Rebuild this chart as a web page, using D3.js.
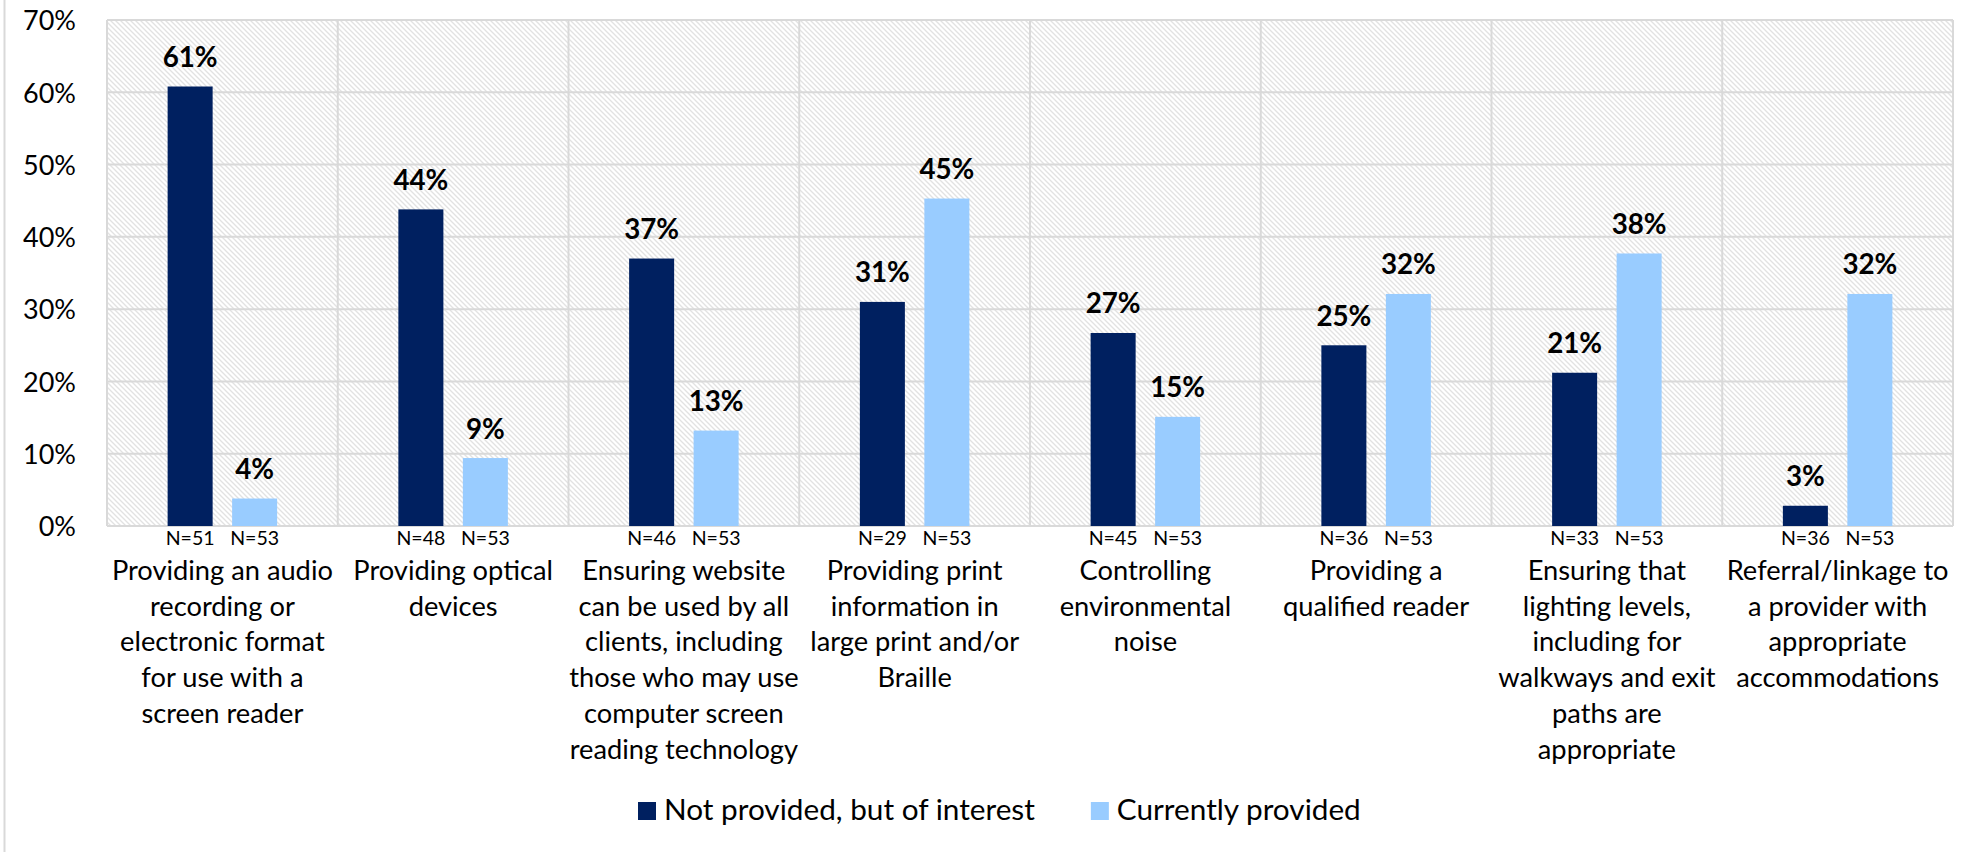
<!DOCTYPE html>
<html>
<head>
<meta charset="utf-8">
<script src="https://cdn.jsdelivr.net/npm/d3@7"></script>
<style>
  html, body { margin: 0; padding: 0; background: #ffffff; }
  svg { display: block; }
</style>
</head>
<body>
<svg id="chart" width="1970" height="852"></svg>
<script>
// Accommodation categories (line breaks follow the printed wrapping)
const categories = [
  "Providing an audio\nrecording or\nelectronic format\nfor use with a\nscreen reader",
  "Providing optical\ndevices",
  "Ensuring website\ncan be used by all\nclients, including\nthose who may use\ncomputer screen\nreading technology",
  "Providing print\ninformation in\nlarge print and/or\nBraille",
  "Controlling\nenvironmental\nnoise",
  "Providing a\nqualified reader",
  "Ensuring that\nlighting levels,\nincluding for\nwalkways and exit\npaths are\nappropriate",
  "Referral/linkage to\na provider with\nappropriate\naccommodations"
];

const seriesNames = ["Not provided, but of interest", "Currently provided"];

// Percent of respondents in each group
const notProvidedValues = [60.8, 43.8, 37.0, 31.0, 26.7, 25.0, 21.2, 2.8];
const currentlyProvidedValues = [3.8, 9.4, 13.2, 45.3, 15.1, 32.1, 37.7, 32.1];

// Respondents answering each item
const notProvidedN = [51, 48, 46, 29, 45, 36, 33, 36];
const currentlyProvidedN = [53, 53, 53, 53, 53, 53, 53, 53];

const yTicks = [0, 10, 20, 30, 40, 50, 60, 70];

const colors = ["#002060", "#99CCFF"];
const FONT = "Lato, 'Open Sans', sans-serif";

const svg = d3.select("#chart");

// Size a font so a sample string spans the wanted width
function fitSize(sample, weight, target) {
  const t = svg.append("text")
    .attr("font-family", FONT).attr("font-weight", weight)
    .attr("font-size", 100).text(sample);
  const w = t.node().getComputedTextLength();
  t.remove();
  return 100 * target / w;
}
const tickSize = fitSize("70%", 400, 53);
const catSize = fitSize("Providing an audio", 400, 221);
const nSize = fitSize("N=51", 400, 49);
const valSize = fitSize("61%", 700, 55);
const legendSize = fitSize("Not provided, but of interest", 400, 371);

const plot = { left: 107, right: 1953, top: 20, bottom: 526 };

const x = d3.scaleBand().domain(categories).range([plot.left, plot.right]).padding(0);
const xSub = d3.scaleBand().domain(seriesNames).range([0, x.bandwidth()])
  .paddingInner(0.302).paddingOuter(0.94);
const y = d3.scaleLinear().domain([0, 70]).range([plot.bottom, plot.top]);

// Diagonal hatch fill for the plot background
const defs = svg.append("defs");
const pat = defs.append("pattern")
  .attr("id", "hatch").attr("patternUnits", "userSpaceOnUse")
  .attr("width", 5).attr("height", 5);
pat.append("rect").attr("width", 5).attr("height", 5).attr("fill", "#ffffff");
pat.append("path")
  .attr("d", "M0,0L5,5M-1,4L1,6M4,-1L6,1")
  .attr("stroke", "#e2e2e2").attr("stroke-width", 1.3);

// Chart frame edge on the left
svg.append("line")
  .attr("x1", 4.5).attr("x2", 4.5).attr("y1", 0).attr("y2", 852)
  .attr("stroke", "#d9d9d9").attr("stroke-width", 2);

svg.append("rect")
  .attr("x", plot.left).attr("y", plot.top)
  .attr("width", plot.right - plot.left).attr("height", plot.bottom - plot.top)
  .attr("fill", "url(#hatch)");

// Horizontal gridlines
svg.append("g")
  .selectAll("line").data(yTicks).join("line")
  .attr("x1", plot.left).attr("x2", plot.right)
  .attr("y1", d => y(d)).attr("y2", d => y(d))
  .attr("stroke", "#d9d9d9").attr("stroke-width", 2);

// Vertical category separators
const bounds = categories.map(c => x(c)).concat([plot.right]);
svg.append("g")
  .selectAll("line").data(bounds).join("line")
  .attr("x1", d => d).attr("x2", d => d)
  .attr("y1", plot.top).attr("y2", plot.bottom)
  .attr("stroke", "#d9d9d9").attr("stroke-width", 2);

// Y axis labels
const yAxis = d3.axisLeft(y).tickValues(yTicks).tickFormat(d => d + "%").tickSize(0).tickPadding(0);
const yg = svg.append("g").attr("transform", `translate(${plot.left - 31},0)`).call(yAxis);
yg.select(".domain").remove();
yg.selectAll("text")
  .attr("font-family", FONT).attr("font-size", tickSize).attr("fill", "#000")
  .attr("dy", "0.36em");

// Bars
const rows = categories.map((c, i) => ({
  cat: c,
  vals: [
    { s: seriesNames[0], v: notProvidedValues[i], n: notProvidedN[i], k: 0 },
    { s: seriesNames[1], v: currentlyProvidedValues[i], n: currentlyProvidedN[i], k: 1 }
  ]
}));

const groups = svg.append("g").selectAll("g").data(rows).join("g")
  .attr("transform", d => `translate(${x(d.cat)},0)`);

groups.selectAll("rect").data(d => d.vals).join("rect")
  .attr("x", d => xSub(d.s)).attr("width", xSub.bandwidth())
  .attr("y", d => y(d.v)).attr("height", d => y(0) - y(d.v))
  .attr("fill", d => colors[d.k]);

// Value labels above bars
groups.selectAll("text.val").data(d => d.vals).join("text")
  .attr("class", "val")
  .attr("x", d => xSub(d.s) + xSub.bandwidth() / 2)
  .attr("y", d => y(d.v) - 19.5)
  .attr("text-anchor", "middle")
  .attr("font-family", FONT).attr("font-weight", 700).attr("font-size", valSize)
  .attr("fill", "#000")
  .text(d => Math.round(d.v) + "%");

// Sample sizes under bars
groups.selectAll("text.n").data(d => d.vals).join("text")
  .attr("class", "n")
  .attr("x", d => xSub(d.s) + xSub.bandwidth() / 2)
  .attr("y", 545)
  .attr("text-anchor", "middle")
  .attr("font-family", FONT).attr("font-size", nSize).attr("fill", "#000")
  .text(d => "N=" + d.n);

// Category labels (multi-line)
const xAxis = d3.axisBottom(x).tickSize(0).tickFormat("");
const xg = svg.append("g").attr("transform", `translate(0,${plot.bottom})`).call(xAxis);
xg.select(".domain").remove();
xg.selectAll(".tick").each(function (d) {
  const t = d3.select(this).append("text")
    .attr("text-anchor", "middle")
    .attr("font-family", FONT).attr("font-size", catSize).attr("fill", "#000");
  d.split("\n").forEach((line, i) => {
    t.append("tspan").attr("x", 0).attr("y", 54 + i * 35.7).text(line);
  });
});

// Legend
const legend = svg.append("g").attr("transform", "translate(638,0)");
let lx = 0;
seriesNames.forEach((name, i) => {
  legend.append("rect")
    .attr("x", lx).attr("y", 802).attr("width", 18).attr("height", 18)
    .attr("fill", colors[i]);
  const t = legend.append("text")
    .attr("x", lx + 26).attr("y", 820)
    .attr("font-family", FONT).attr("font-size", legendSize).attr("fill", "#000")
    .text(name);
  lx += 26 + t.node().getComputedTextLength() + 56;
});
</script>
</body>
</html>
